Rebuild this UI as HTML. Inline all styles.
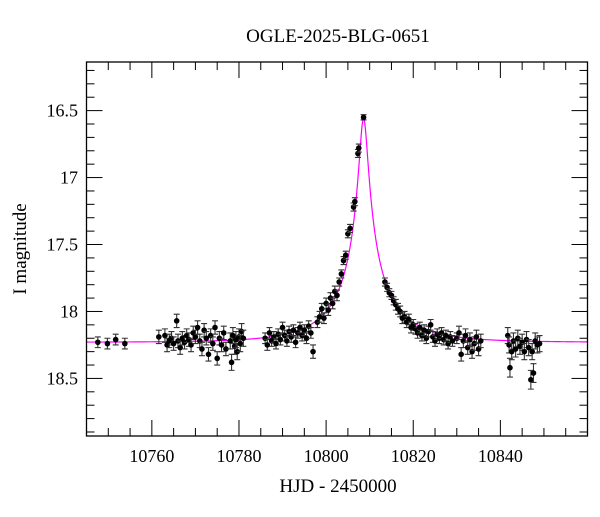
<!DOCTYPE html>
<html><head><meta charset="utf-8"><style>
body{margin:0;background:#fff}
svg text{font-family:"Liberation Serif",serif;fill:#000}
</style></head><body>
<svg id="c" width="600" height="512" viewBox="0 0 600 512" style="position:absolute;left:0;top:0"></svg>
<script>
const times=[10747.6,10749.8,10751.7,10753.8,10761.6,
10763,10763.5,10764,10764.5,10765,10765.7,10766,10766.5,10767,10767.5,10768,10768.5,10769,10769.5,10770,10770.5,10771,10771.5,10772,10772.5,10773,10773.5,10774,
10774.5,10775,10775.5,10776,10776.5,10777,
10778,10778.3,10778.6,10779,10779.3,10779.6,10780,10780.3,10780.6,10781,
10786,10786.5,10787,10787.5,10788,10788.5,10789,10789.5,10790,10790.5,10791,10791.5,10792,10792.5,10793,10793.5,10794,10794.5,10795,10795.5,10796,10796.5,10797,
10798,10798.5,10799,10799.5,10800,10800.5,10801,10801.5,10802,10802.5,10803,10803.5,10804,10804.5,10805,10805.5,10806.3,10806.6,10807.3,10807.5,10808.6,
10813.5,10814,10814.5,10815,10815.5,10816,10816.5,10817,10817.5,10818,10818.5,10819,10819.5,10820,10820.5,10821,10821.5,10822,10822.5,10823,10823.5,10824,10824.5,10825,10825.5,10826,10826.5,10827,10827.5,10828,10828.5,10829,10830,10830.5,10831,10831.5,10832,10832.5,10833,10833.5,10834,10834.5,10835,10835.5,
10841.7,10842,10842.2,10842.6,10843,10843.5,10844,10844.5,10845,10845.5,10846,10846.5,10847,10847.3,10847.6,10848,10848.5,10849];
const mags=[18.23,18.24,18.21,18.24,18.19,
18.18,18.25,18.22,18.20,18.24,18.07,18.22,18.27,18.20,18.23,18.18,18.21,18.25,18.16,18.19,18.12,18.22,18.28,18.14,18.20,18.32,18.18,18.24,
18.12,18.35,18.20,18.25,18.16,18.28,
18.22,18.38,18.18,18.26,18.21,18.30,18.19,18.24,18.15,18.20,
18.20,18.25,18.16,18.22,18.19,18.24,18.17,18.21,18.12,18.18,18.22,18.15,18.19,18.14,18.23,18.16,18.12,18.18,18.14,18.20,18.11,18.16,18.30,
18.08,18.04,17.98,18.05,17.94,17.99,17.90,17.94,17.85,17.88,17.78,17.72,17.62,17.58,17.42,17.38,17.22,17.18,16.82,16.78,16.55,
17.78,17.82,17.86,17.88,17.92,17.95,17.98,18.00,18.05,18.04,18.08,18.06,18.12,18.10,18.13,18.16,18.12,18.18,18.14,18.20,18.15,18.10,18.19,18.22,18.17,18.20,18.16,18.21,18.18,18.24,18.19,18.22,18.20,18.16,18.32,18.22,18.18,18.27,18.21,18.30,18.24,18.19,18.28,18.22,
18.18,18.25,18.42,18.30,18.22,18.28,18.20,18.26,18.23,18.30,18.21,18.27,18.51,18.30,18.46,18.22,18.25,18.24];
const errs=[0.04,0.04,0.04,0.04,0.05,
0.05,0.05,0.05,0.05,0.05,0.05,0.05,0.05,0.05,0.05,0.05,0.05,0.05,0.05,0.05,0.05,0.05,0.05,0.05,0.05,0.05,0.05,0.05,
0.05,0.05,0.05,0.05,0.05,0.05,
0.06,0.06,0.06,0.06,0.06,0.06,0.06,0.06,0.06,0.06,
0.04,0.04,0.04,0.04,0.04,0.04,0.04,0.04,0.04,0.04,0.04,0.04,0.04,0.04,0.04,0.04,0.04,0.04,0.04,0.04,0.04,0.04,0.05,
0.04,0.04,0.04,0.04,0.04,0.04,0.04,0.04,0.04,0.04,0.03,0.03,0.03,0.03,0.03,0.03,0.03,0.03,0.03,0.03,0.02,
0.03,0.03,0.03,0.03,0.03,0.04,0.04,0.04,0.04,0.04,0.04,0.04,0.04,0.04,0.04,0.04,0.04,0.04,0.04,0.04,0.04,0.04,0.04,0.04,0.04,0.04,0.04,0.04,0.04,0.04,0.04,0.04,0.04,0.05,0.05,0.05,0.05,0.05,0.05,0.05,0.05,0.05,0.05,0.05,
0.06,0.06,0.07,0.06,0.06,0.06,0.06,0.06,0.06,0.06,0.06,0.06,0.07,0.06,0.07,0.06,0.06,0.06];
const xTicks=[10760,10780,10800,10820,10840];
const yTicks=[16.5,17,17.5,18,18.5];
const modelT0=[10808.6], modelU0=[0.064], modelTE=[15.0], modelBase=[18.23], modelFs=[0.25];

const NS="http://www.w3.org/2000/svg", svg=document.getElementById('c');
const L=86.5,R=587.5,T=62,B=436, X0=10745,X1=10860, Y0=16.137,Y1=18.93;
const xs=t=>L+(t-X0)/(X1-X0)*(R-L);
const ys=m=>T+(m-Y0)/(Y1-Y0)*(B-T);
function mk(tag,at,parent){const e=document.createElementNS(NS,tag);for(const k in at)e.setAttribute(k,at[k]);(parent||svg).appendChild(e);return e;}

const gT=mk('g',{});


for(let t=10745;t<=10860;t+=5){const maj=t%20===0;const l=maj?16:8;
mk('line',{x1:xs(t),x2:xs(t),y1:B,y2:B-l,stroke:'#000','stroke-width':1},gT);
mk('line',{x1:xs(t),x2:xs(t),y1:T,y2:T+l,stroke:'#000','stroke-width':1},gT);}
for(let i=2;i<=29;i++){const m=i/10+16;const maj=i%5===0;const l=maj?16:8;
mk('line',{x1:L,x2:L+l,y1:ys(m),y2:ys(m),stroke:'#000','stroke-width':1},gT);
mk('line',{x1:R,x2:R-l,y1:ys(m),y2:ys(m),stroke:'#000','stroke-width':1},gT);}

xTicks.forEach(v=>{const e=mk('text',{x:xs(v),y:462,'text-anchor':'middle','font-size':18});e.textContent=v;

});
yTicks.forEach(v=>{const e=mk('text',{x:78,y:ys(v)+6,'text-anchor':'end','font-size':18});e.textContent=v;

});

function A(u){return (u*u+2)/(u*Math.sqrt(u*u+4));}
let d='';
for(let px=L;px<=R;px+=0.25){const t=X0+(px-L)/(R-L)*(X1-X0);const tau=(t-modelT0[0])/modelTE[0];
const u=Math.sqrt(modelU0[0]*modelU0[0]+tau*tau);const fs=modelFs[0];
const m=modelBase[0]-2.5*Math.log10(fs*A(u)+1-fs);
d+=(d?'L':'M')+px.toFixed(2)+','+ys(Math.max(m,Y0)).toFixed(2);}
const mp=mk('path',{d:d,fill:'none',stroke:'#ff00ff','stroke-width':1.2});



const gP=mk('g',{});


times.forEach((t,i)=>{const x=xs(t),y=ys(mags[i]),e=errs[i];const y1=ys(mags[i]-e),y2=ys(mags[i]+e);
mk('path',{d:`M${x},${y1}V${y2}M${x-3},${y1}H${x+3}M${x-3},${y2}H${x+3}`,stroke:'#333','stroke-width':1.1,fill:'none'},gP);
const c=mk('circle',{cx:x,cy:y,r:2.8,fill:'#000'},gP);

});

const fr=mk('rect',{x:L,y:T,width:R-L,height:B-T,fill:'none',stroke:'#000','stroke-width':1.3});


</script>
<div style="position:absolute;left:0;top:0;width:600px;height:512px;pointer-events:none">
<svg width="600" height="512">
<text x="338" y="42" text-anchor="middle" font-size="19">OGLE-2025-BLG-0651</text>
<text x="338" y="492" text-anchor="middle" font-size="19">HJD - 2450000</text>
<text transform="translate(26,249) rotate(-90)" text-anchor="middle" font-size="19">I magnitude</text>
</svg></div>
</body></html>
